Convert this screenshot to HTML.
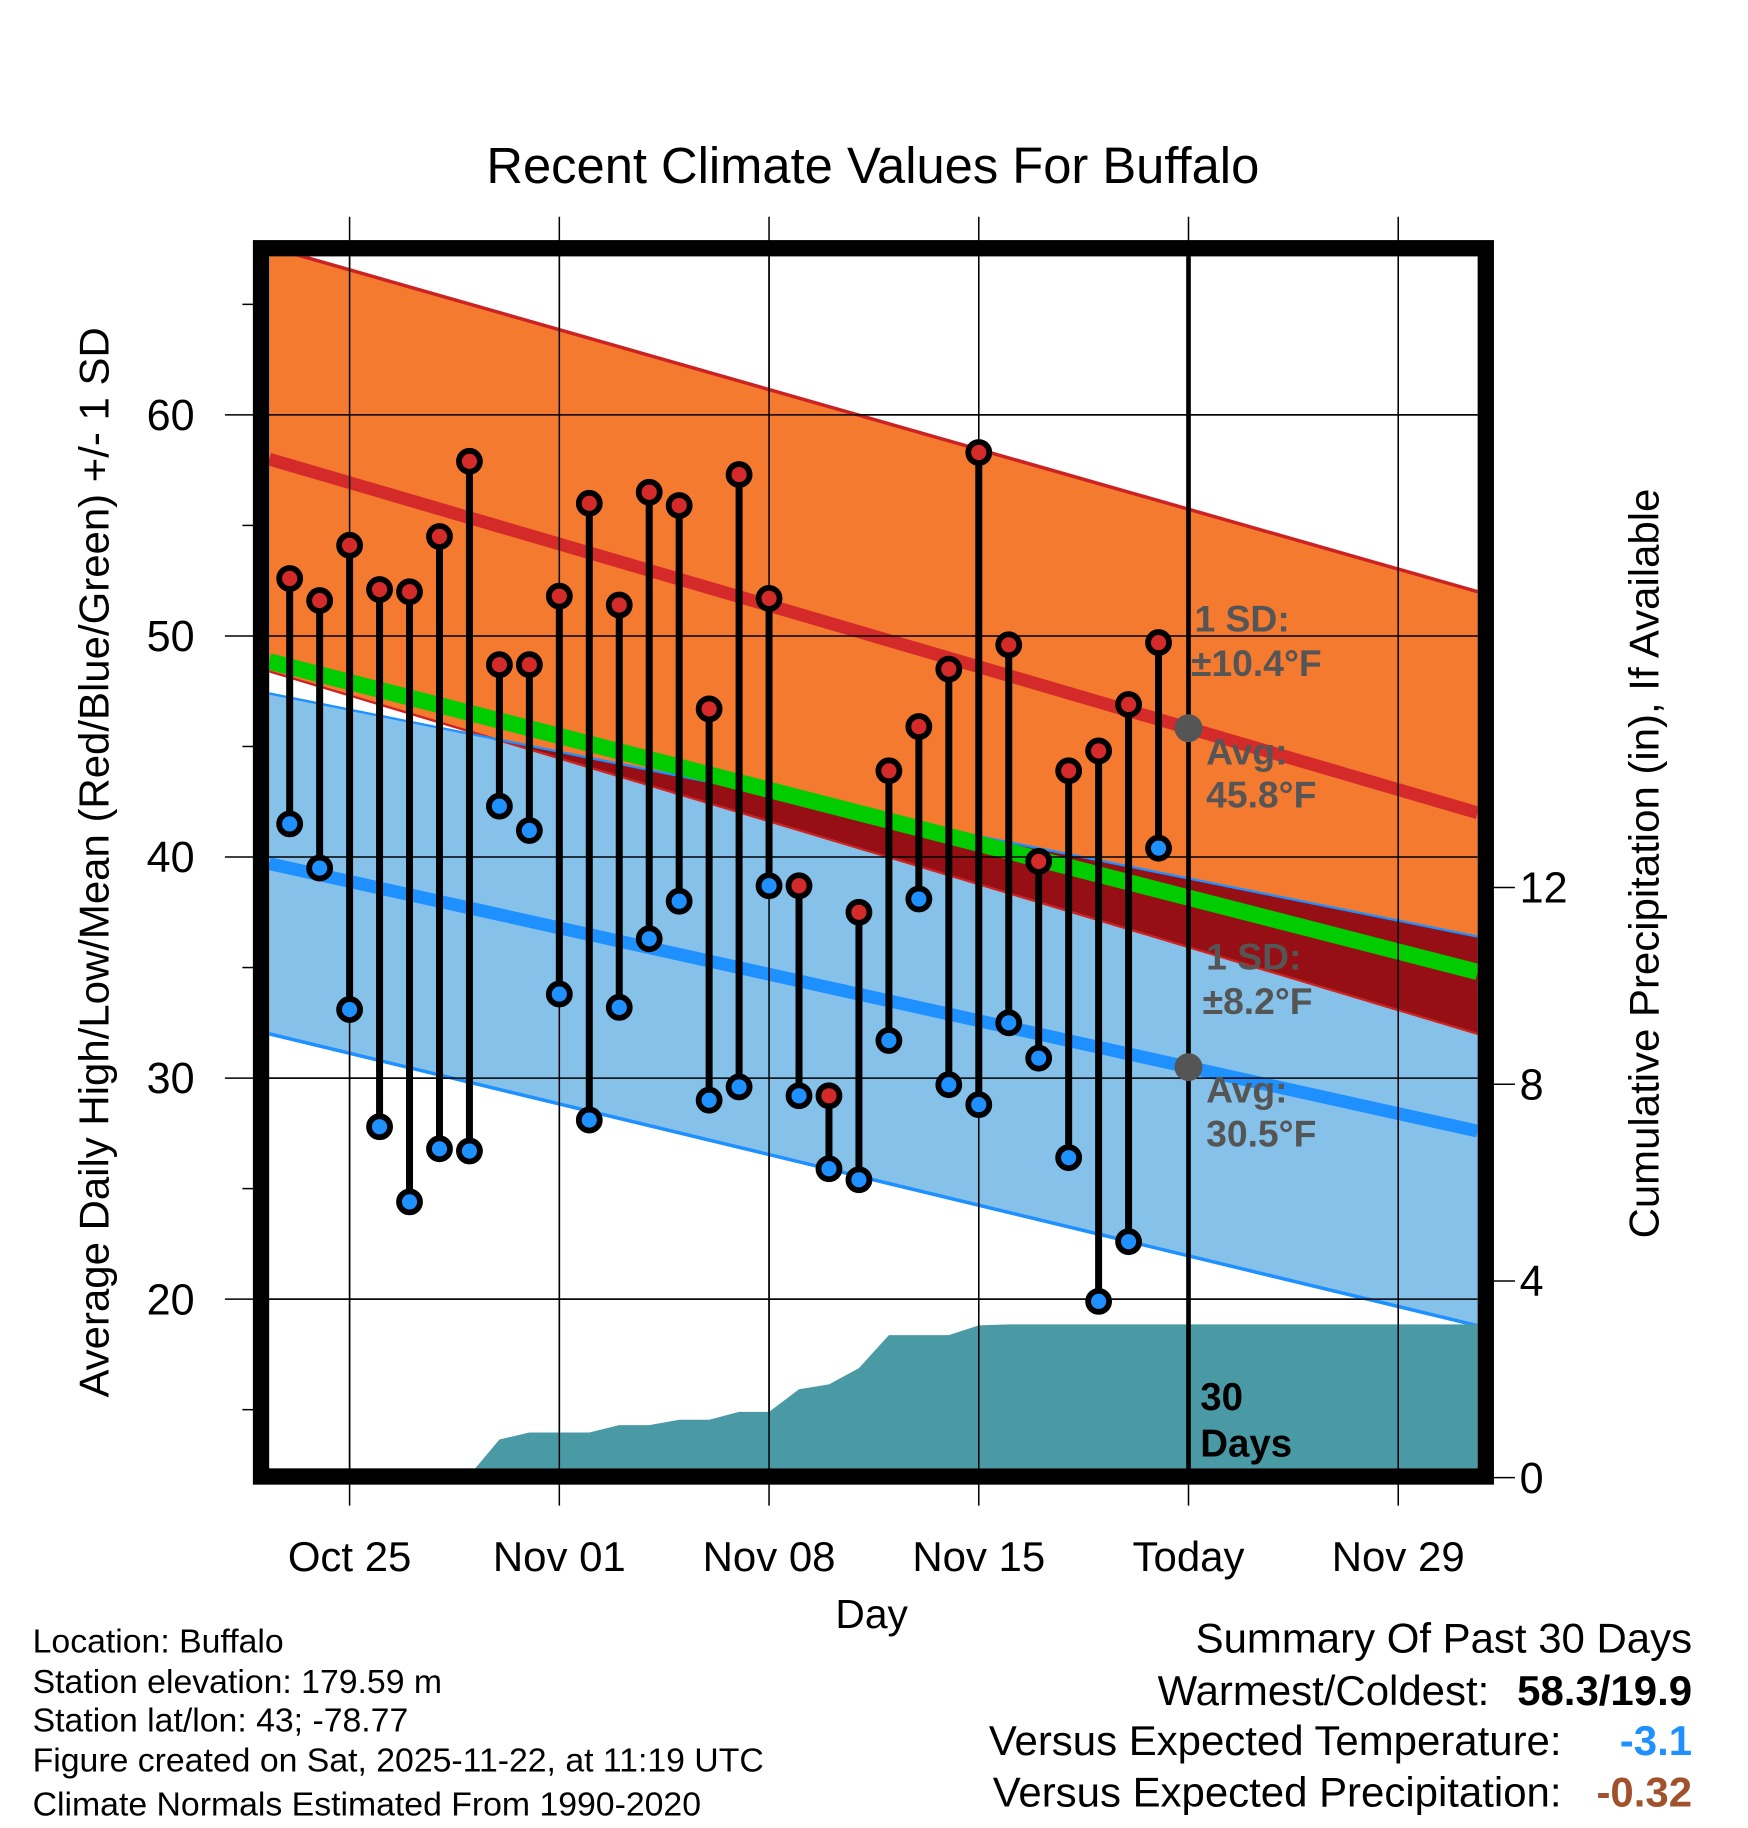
<!DOCTYPE html>
<html><head><meta charset="utf-8"><style>
html,body{margin:0;padding:0;background:#fff}
svg{display:block}
text{font-family:"Liberation Sans",Arial,sans-serif}
</style></head><body>
<svg id="chart" width="1748" height="1828" viewBox="0 0 1500 1568.6" xmlns="http://www.w3.org/2000/svg">
<defs><clipPath id="pc"><rect x="231" y="220" width="1037" height="1040"/></clipPath></defs>
<text x="749" y="157" font-size="43.5" text-anchor="middle">Recent Climate Values For Buffalo</text>
<g id="grid"></g>
<g id="plot" clip-path="url(#pc)"></g>
<g id="marks"></g>
<rect x="224" y="213" width="1051" height="1054" fill="none" stroke="#000" stroke-width="14"/>
<g id="axes"></g>
<text transform="translate(93,740) rotate(-90)" font-size="36" text-anchor="middle">Average Daily High/Low/Mean (Red/Blue/Green) +/- 1 SD</text>
<text transform="translate(1423,741) rotate(-90)" font-size="36" text-anchor="middle">Cumulative Precipitation (in), If Available</text>
<text x="748" y="1397" font-size="35" text-anchor="middle">Day</text>
<g font-size="29">
<text x="28" y="1418">Location: Buffalo</text>
<text x="28" y="1453">Station elevation: 179.59 m</text>
<text x="28" y="1486">Station lat/lon: 43; -78.77</text>
<text x="28" y="1520">Figure created on Sat, 2025-11-22, at 11:19 UTC</text>
<text x="28" y="1558">Climate Normals Estimated From 1990-2020</text>
</g>
<g font-size="36" text-anchor="end">
<text x="1452" y="1418">Summary Of Past 30 Days</text>
<text x="1278" y="1463">Warmest/Coldest:</text>
<text x="1452" y="1463" font-weight="bold">58.3/19.9</text>
<text x="1340" y="1506">Versus Expected Temperature:</text>
<text x="1452" y="1506" font-weight="bold" fill="#1e90ff">-3.1</text>
<text x="1340" y="1550">Versus Expected Precipitation:</text>
<text x="1452" y="1550" font-weight="bold" fill="#a0522d">-0.32</text>
</g>
</svg>
<script>
const days = [-2,-1,0,1,2,3,4,5,6,7,8,9,10,11,12,13,14,15,16,17,18,19,20,21,22,23,24,25,26,27];
const highs = [52.6,51.6,54.1,52.1,52.0,54.5,57.9,48.7,48.7,51.8,56.0,51.4,56.5,55.9,46.7,57.3,51.7,38.7,29.2,37.5,43.9,45.9,48.5,58.3,49.6,39.8,43.9,44.8,46.9,49.7];
const lows = [41.5,39.5,33.1,27.8,24.4,26.8,26.7,42.3,41.2,33.8,28.1,33.2,36.3,38.0,29.0,29.6,38.7,29.2,25.9,25.4,31.7,38.1,29.7,28.8,32.5,30.9,26.4,19.9,22.6,40.4];
const precip = [0,0,0,0,0,0,0,0.73,0.87,0.87,0.87,1.02,1.02,1.13,1.13,1.29,1.29,1.75,1.85,2.18,2.85,2.85,2.85,3.05,3.07,3.07,3.07,3.07,3.07,3.07];
const normHighStart = [58.0, 9.6];
const normHighEnd = [42.0, 10.0];
const normLowStart = [39.7, 7.7];
const normLowEnd = [27.6, 8.8];
const xTickDays = [0,7,14,21,28,35];
const xTickLabels = ["Oct 25","Nov 01","Nov 08","Nov 15","Today","Nov 29"];
const yTicks = [20,30,40,50,60];
const yMinor = [15,25,35,45,55,65];
const pTicks = [0,4,8,12];
const todayDay = 28;

const NS="http://www.w3.org/2000/svg";
const X=d=>300+d*25.71;
const Y=t=>356+(60-t)*18.97;
const P=p=>1266-p*42.2;
const dL=(231-300)/25.71, dR=(1268-300)/25.71;
function mk(tag,attrs,parent){const e=document.createElementNS(NS,tag);for(const k in attrs)e.setAttribute(k,attrs[k]);parent.appendChild(e);return e;}
const grid=document.getElementById('grid'),plot=document.getElementById('plot'),marks=document.getElementById('marks'),axes=document.getElementById('axes');
const lerp=(a,b,d)=>a+(b-a)*(d-dL)/(dR-dL);
const hi=d=>lerp(normHighStart[0],normHighEnd[0],d), lo=d=>lerp(normLowStart[0],normLowEnd[0],d);
const hsd=d=>lerp(normHighStart[1],normHighEnd[1],d), lsd=d=>lerp(normLowStart[1],normLowEnd[1],d);
const N=60;
function bandPts(fTop,fBot){const t=[],b=[];for(let i=0;i<=N;i++){const d=dL+(dR-dL)*i/N;t.push([d,fTop(d)]);b.unshift([d,fBot(d)]);}return t.concat(b).map(p=>X(p[0])+','+Y(p[1])).join(' ');}
{const e=mk('polygon',{points:bandPts(d=>hi(d)+hsd(d),d=>hi(d)-hsd(d)),fill:'#f47a30'},plot);

}
{const e=mk('polygon',{points:bandPts(d=>lo(d)+lsd(d),d=>lo(d)-lsd(d)),fill:'#85c1e9'},plot);

}
{const e=mk('polygon',{points:bandPts(d=>lo(d)+lsd(d),d=>Math.min(lo(d)+lsd(d),hi(d)-hsd(d))),fill:'#960f14'},plot);

}
{const e=mk('polygon',{points:bandPts(d=>hi(d)-hsd(d),d=>Math.min(lo(d)+lsd(d),hi(d)-hsd(d))),fill:'#fff'},plot);

}
function line(f,col,wd,name){
  const e=mk('line',{x1:X(dL),y1:Y(f(dL)),x2:X(dR),y2:Y(f(dR)),stroke:col,'stroke-width':wd},plot);
  
  
}
line(d=>hi(d)+hsd(d),'#cc2222',3,'high-plus-sd-line');
line(d=>hi(d)-hsd(d),'#cc2222',2,'high-minus-sd-line');
line(d=>lo(d)+lsd(d),'#1e90ff',2,'low-plus-sd-line');
line(d=>lo(d)-lsd(d),'#1e90ff',3,'low-minus-sd-line');
line(d=>(hi(d)+lo(d))/2,'#00cc00',14,'mean-line');
line(hi,'#d42a2a',11,'mean-high-line');
line(lo,'#1e90ff',11,'mean-low-line');
{
  const pts=[[X(dL),P(0)]];
  days.forEach((d,i)=>pts.push([X(d),P(precip[i])]));
  pts.push([X(dR),P(precip[precip.length-1])]);pts.push([X(dR),1270]);pts.push([X(dL),1270]);
  const e=mk('polygon',{points:pts.map(p=>p.join(',')).join(' '),fill:'#4a9aa5'},plot);
  
  
}
xTickDays.forEach(d=>{const e=mk('line',{x1:X(d),y1:186,x2:X(d),y2:1292,stroke:'#000','stroke-width':1.3},grid);

});
yTicks.forEach(t=>{const e=mk('line',{x1:193,y1:Y(t),x2:1268,y2:Y(t),stroke:'#000','stroke-width':1.3},grid);

});
plot.appendChild(grid.cloneNode(true));
yMinor.forEach(t=>{const e=mk('line',{x1:208,y1:Y(t),x2:218,y2:Y(t),stroke:'#000','stroke-width':1.3},axes);

});
yTicks.forEach(t=>{const e=mk('text',{x:167,y:Y(t)+13,'font-size':37,'text-anchor':'end'},axes);e.textContent=t;

});
pTicks.forEach(p=>{const l=mk('line',{x1:1282,y1:P(p)+2,x2:1300,y2:P(p)+2,stroke:'#000','stroke-width':1.3},axes);


const e=mk('text',{x:1304,y:P(p)+15,'font-size':37},axes);e.textContent=p;

});
xTickDays.forEach((d,i)=>{const e=mk('text',{x:X(d),y:1348,'font-size':36,'text-anchor':'middle'},axes);e.textContent=xTickLabels[i];

});
{const e=mk('line',{x1:X(todayDay),y1:220,x2:X(todayDay),y2:1260,stroke:'#000','stroke-width':4},marks);

}
days.forEach((d,i)=>{
  const s=mk('line',{x1:X(d),y1:Y(highs[i]),x2:X(d),y2:Y(lows[i]),stroke:'#000','stroke-width':6},marks);
  
  
});
days.forEach((d,i)=>{
  const h=mk('circle',{cx:X(d),cy:Y(highs[i]),r:9,fill:'#d42a2a',stroke:'#000','stroke-width':5},marks);
  
  
  const l=mk('circle',{cx:X(d),cy:Y(lows[i]),r:9,fill:'#1e90ff',stroke:'#000','stroke-width':5},marks);
  
  
});
const avgH=hi(todayDay), avgL=lo(todayDay);
[[avgH,'today-high-avg-dot'],[avgL,'today-low-avg-dot']].forEach(a=>{const e=mk('circle',{cx:X(todayDay),cy:Y(a[0]),r:12,fill:'#555'},marks);

});
const labs=[["1 SD:",1025,542],["±10.4°F",1022,580],["Avg:",1035,656],["45.8°F",1035,693],["1 SD:",1035,832],["±8.2°F",1032,870],["Avg:",1035,946],["30.5°F",1035,984]];
labs.forEach(a=>{const e=mk('text',{x:a[1],y:a[2],'font-size':32,'font-weight':'bold',fill:'#555'},marks);e.textContent=a[0];

});
[["30",1030,1210],["Days",1030,1250]].forEach(a=>{const e=mk('text',{x:a[1],y:a[2],'font-size':33,'font-weight':'bold',fill:'#000'},marks);e.textContent=a[0];

});
</script>
</body></html>
